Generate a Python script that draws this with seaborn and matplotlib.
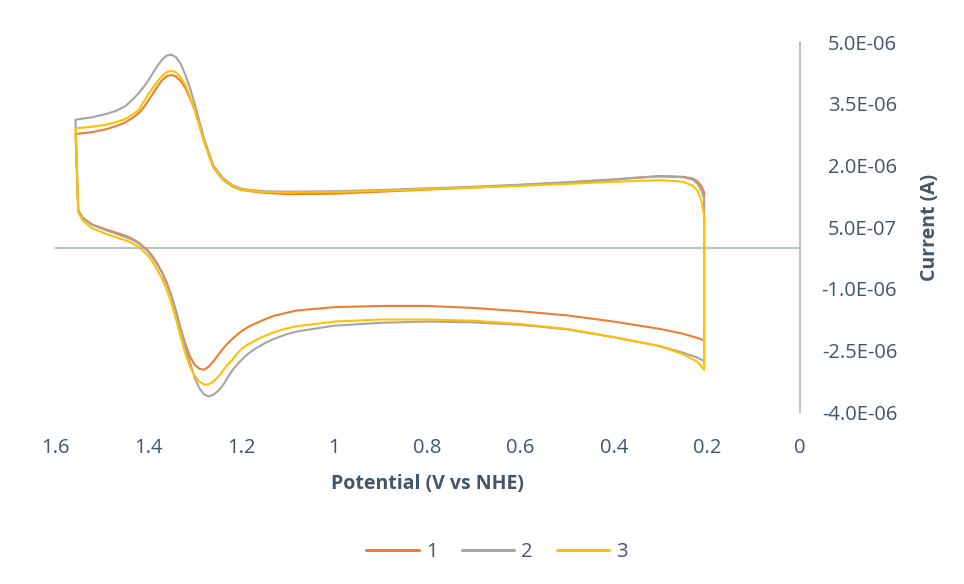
import numpy as np
import pandas as pd
import matplotlib
matplotlib.use("Agg")
import matplotlib.pyplot as plt
from matplotlib.lines import Line2D
import seaborn as sns

# ---------------- data (currents in microamps) ----------------
series_names = ["1", "2", "3"]
series_colors = ["#ED7D31", "#A5A5A5", "#FFC000"]

# forward (upper) branch potentials, V vs NHE
v_upper = [0.206, 0.212, 0.22, 0.23, 0.25, 0.30, 0.35, 0.40, 0.50, 0.60, 0.70, 0.80,
           0.90, 1.00, 1.10, 1.15, 1.18, 1.20, 1.22, 1.24, 1.26, 1.28, 1.29, 1.30,
           1.31, 1.32, 1.33, 1.34, 1.35, 1.36, 1.37, 1.38, 1.39, 1.40, 1.41, 1.42,
           1.435, 1.45, 1.47, 1.49, 1.52, 1.556]
i_upper_1 = [1.34, 1.50, 1.60, 1.68, 1.72, 1.74, 1.70, 1.65, 1.58, 1.52, 1.46, 1.41,
             1.36, 1.31, 1.30, 1.33, 1.37, 1.40, 1.49, 1.66, 1.95, 2.60, 2.98, 3.35,
             3.63, 3.88, 4.05, 4.16, 4.20, 4.17, 4.07, 3.92, 3.74, 3.57, 3.40, 3.27,
             3.14, 3.04, 2.95, 2.88, 2.81, 2.76]
i_upper_2 = [1.20, 1.40, 1.55, 1.65, 1.71, 1.73, 1.70, 1.66, 1.59, 1.53, 1.48, 1.44,
             1.40, 1.37, 1.36, 1.37, 1.40, 1.43, 1.52, 1.70, 1.99, 2.66, 3.08, 3.50,
             3.88, 4.20, 4.47, 4.63, 4.69, 4.67, 4.57, 4.42, 4.24, 4.06, 3.90, 3.76,
             3.58, 3.43, 3.32, 3.25, 3.17, 3.11]
i_upper_3 = [0.78, 1.15, 1.38, 1.50, 1.60, 1.64, 1.62, 1.60, 1.55, 1.50, 1.46, 1.42,
             1.38, 1.35, 1.34, 1.35, 1.38, 1.41, 1.50, 1.67, 1.95, 2.58, 2.97, 3.35,
             3.67, 3.95, 4.14, 4.26, 4.30, 4.27, 4.17, 4.04, 3.89, 3.72, 3.54, 3.35,
             3.22, 3.12, 3.05, 2.99, 2.94, 2.90]

# reverse (lower) branch potentials, V vs NHE
v_lower = [1.55, 1.54, 1.52, 1.49, 1.46, 1.44, 1.42, 1.40, 1.39, 1.38, 1.37, 1.36,
           1.35, 1.34, 1.33, 1.32, 1.31, 1.30, 1.29, 1.28, 1.27, 1.26, 1.25, 1.24,
           1.23, 1.22, 1.21, 1.20, 1.185, 1.17, 1.15, 1.13, 1.10, 1.08, 1.00, 0.90,
           0.80, 0.70, 0.60, 0.50, 0.40, 0.30, 0.25, 0.22, 0.206]
i_lower_1 = [0.90, 0.72, 0.56, 0.44, 0.33, 0.25, 0.12, -0.08, -0.22, -0.40, -0.60, -0.85,
             -1.17, -1.55, -1.97, -2.35, -2.65, -2.85, -2.95, -2.97, -2.90, -2.77, -2.62, -2.47,
             -2.34, -2.23, -2.13, -2.04, -1.93, -1.85, -1.75, -1.66, -1.58, -1.53, -1.45, -1.42,
             -1.42, -1.47, -1.55, -1.65, -1.80, -1.98, -2.10, -2.20, -2.26]
i_lower_2 = [0.90, 0.72, 0.55, 0.42, 0.30, 0.22, 0.10, -0.10, -0.25, -0.42, -0.62, -0.88,
             -1.18, -1.55, -2.00, -2.42, -2.80, -3.17, -3.42, -3.57, -3.62, -3.58, -3.49, -3.36,
             -3.18, -3.00, -2.86, -2.74, -2.58, -2.46, -2.33, -2.22, -2.10, -2.04, -1.90, -1.83,
             -1.80, -1.82, -1.88, -1.99, -2.18, -2.40, -2.56, -2.68, -2.76]
i_lower_3 = [0.85, 0.65, 0.47, 0.33, 0.22, 0.14, 0.02, -0.20, -0.36, -0.55, -0.76, -1.02,
             -1.35, -1.75, -2.18, -2.58, -2.90, -3.12, -3.26, -3.33, -3.33, -3.26, -3.15, -3.00,
             -2.86, -2.74, -2.60, -2.47, -2.35, -2.26, -2.15, -2.06, -1.96, -1.91, -1.80, -1.75,
             -1.75, -1.78, -1.86, -1.98, -2.18, -2.40, -2.60, -2.78, -2.97]

x_ticks = [1.6, 1.4, 1.2, 1.0, 0.8, 0.6, 0.4, 0.2, 0.0]
x_tick_labels = ["1.6", "1.4", "1.2", "1", "0.8", "0.6", "0.4", "0.2", "0"]
y_ticks = [-4.0e-6, -2.5e-6, -1.0e-6, 5.0e-7, 2.0e-6, 3.5e-6, 5.0e-6]

# ---------------- build long-form table (closed CV loop per scan) ----------------
uppers = [i_upper_1, i_upper_2, i_upper_3]
lowers = [i_lower_1, i_lower_2, i_lower_3]
rows = []
for name, up, lo in zip(series_names, uppers, lowers):
    path_v = list(v_upper) + list(v_lower) + [v_upper[0]]
    path_i = list(up) + list(lo) + [up[0]]
    for order, (v, i) in enumerate(zip(path_v, path_i)):
        rows.append((name, order, v, i * 1e-6))
df = pd.DataFrame(rows, columns=["scan", "order", "potential", "current"])

# ---------------- styling ----------------
sns.set_theme(style="white")
plt.rcParams["font.family"] = ["Open Sans", "DejaVu Sans"]
text_color = "#44546A"
axis_color = "#B4BCCA"

fig = plt.figure(figsize=(9.64, 5.84), dpi=100)
ax = fig.add_axes([55 / 964, 1 - 412 / 584, 745 / 964, 370 / 584])

sns.lineplot(data=df, x="potential", y="current", hue="scan", units="scan",
             estimator=None, sort=False, palette=series_colors,
             linewidth=1.5, ax=ax, legend=False)

ax.set_xlim(1.6, 0.0)
ax.set_ylim(-4.0e-6, 5.0e-6)

for s in ["top", "left", "bottom"]:
    ax.spines[s].set_visible(False)
ax.spines["right"].set_visible(True)
ax.spines["right"].set_color(axis_color)
ax.spines["right"].set_linewidth(1.3)
ax.axhline(0, color=axis_color, linewidth=1.3, zorder=0)

ax.set_xticks(x_ticks)
ax.set_xticklabels(x_tick_labels)
ax.yaxis.tick_right()
ax.set_yticks(y_ticks)
ax.set_yticklabels([f"{v:.1E}" for v in y_ticks])
ax.tick_params(axis="x", length=0, pad=19, labelsize=14.5, labelcolor=text_color)
ax.tick_params(axis="y", length=0, pad=70, labelsize=14.5, labelcolor=text_color)
for lab in ax.get_yticklabels():
    lab.set_horizontalalignment("right")

ax.set_xlabel("Potential (V vs NHE)", fontsize=14, fontweight="bold", color=text_color)
ax.xaxis.set_label_coords(0.5, (412 - 484) / 370)
ax.xaxis.label.set_va("center")
ax.yaxis.set_label_position("right")
ax.set_ylabel("Current (A)", fontsize=14, fontweight="bold", color=text_color,
              rotation=90)
ax.yaxis.set_label_coords((930 - 55) / 745, 0.5)
ax.yaxis.label.set_va("center")
ax.grid(False)

handles = [Line2D([], [], color=c, linewidth=2.2) for c in series_colors]
fig.legend(handles, series_names, loc="center", bbox_to_anchor=(497 / 964, 1 - 551.7 / 584),
           ncol=3, frameon=False, fontsize=14.5, labelcolor=text_color,
           handlelength=2.6, handletextpad=0.35, columnspacing=1.2)

fig.savefig("out.png", dpi=100)
